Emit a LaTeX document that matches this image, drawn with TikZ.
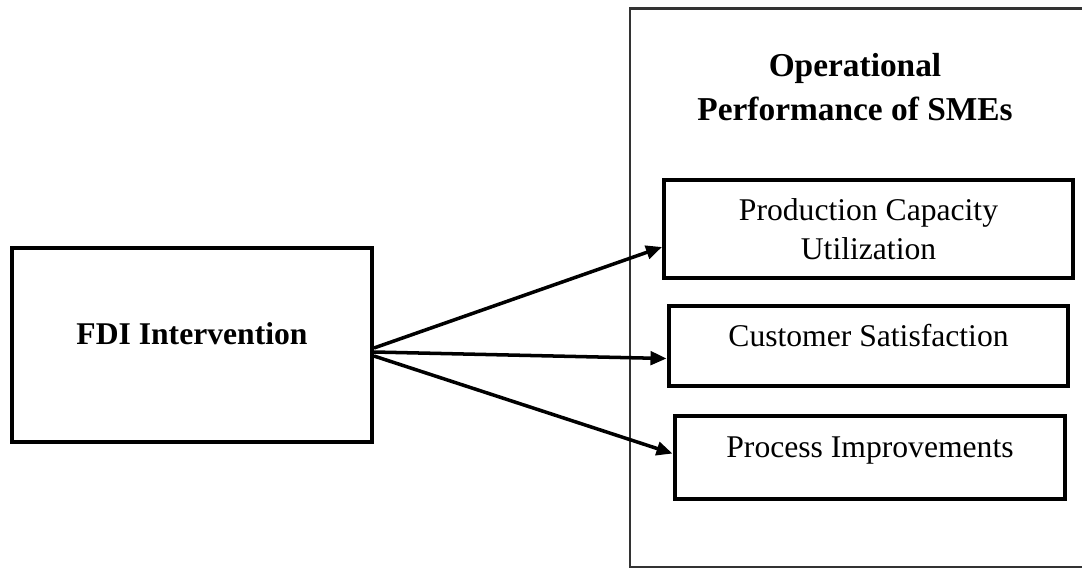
\documentclass[tikz,border=0pt]{standalone}
\usepackage{fontspec}
\setmainfont{Liberation Serif}
\usepackage{tikz}
\usetikzlibrary{arrows.meta, positioning}
\tikzstyle{factor} = [rectangle, draw, line width=2.3pt, align=center, font=\fontsize{18}{22}\selectfont]
\tikzstyle{heading} = [draw=none, align=center, font=\fontsize{19}{25}\selectfont\bfseries]
\tikzstyle{arrow} = [line width=2pt, -{Triangle[length=0.32cm, width=0.27cm]}]

\begin{document}
\begin{tikzpicture}[x=0.02cm, y=-0.02cm]
    \useasboundingbox (0,0) rectangle (1082,569);

            % Frame of the dependent variable
            \draw [line width=1.3pt, black!80] (630,8.5) rectangle (1095,567);

            % Nodes
            \node (fdi) [factor, minimum width=7.2cm, minimum height=3.88cm, text height=13pt, text depth=14pt, font=\fontsize{18}{22}\selectfont\bfseries] at (192,345) {FDI Intervention};
            \node (ops) [heading] at (855,87) {Operational\\Performance of SMEs};

            \node (pcu) [factor, minimum width=8.18cm, minimum height=1.96cm] at (868.5,229) {Production Capacity\\Utilization};
            \node (cs) [factor, below=0.48cm of pcu, minimum width=8.0cm, minimum height=1.6cm, text height=13pt, text depth=12pt] {Customer Satisfaction};
            \node (pi) [factor, below=0.52cm of cs, xshift=0.03cm, minimum width=7.82cm, minimum height=1.66cm, text height=13pt, text depth=13.5pt] {Process Improvements};

            % Arrows
            \draw [arrow] ([yshift=-0.06cm]fdi.east) -- ([yshift=-0.36cm]pcu.west);
            \draw [arrow] ([yshift=-0.14cm]fdi.east) -- ([yshift=-0.25cm]cs.west);
            \draw [arrow] ([yshift=-0.22cm]fdi.east) -- ([yshift=0.08cm]pi.west);

        \end{tikzpicture}
\end{document}
